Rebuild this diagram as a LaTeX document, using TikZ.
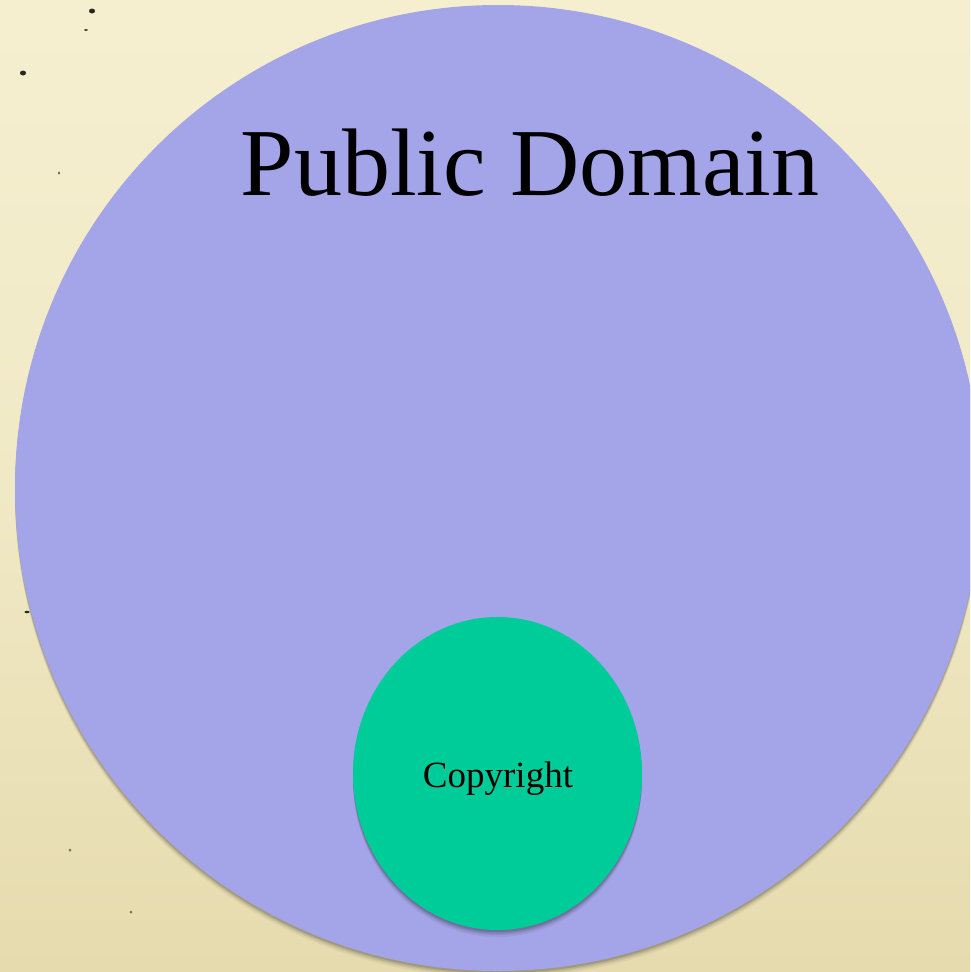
\documentclass[tikz,border=0pt]{standalone}
\usepackage{fontspec}
\setmainfont{Liberation Serif}
\definecolor{parchTop}{HTML}{F5EFD0}
\definecolor{parchBot}{HTML}{E6DBAE}
\definecolor{domainFill}{HTML}{A4A4E8}
\definecolor{copyFill}{HTML}{00CC99}
\definecolor{speck}{HTML}{2A2620}
\tikzset{
  speckdot/.style={fill=speck, draw=none},
  domaintext/.style={font=\fontsize{96}{100}\selectfont, text=black, inner sep=0pt, anchor=base},
  copytext/.style={font=\fontsize{37}{40}\selectfont, text=black, inner sep=0pt, anchor=base},
}
\begin{document}
\begin{tikzpicture}[x=1pt, y=-1pt]
  \useasboundingbox (0,0) rectangle (970,972);
  \clip (0,0) rectangle (970,972);
  % parchment background
  \shade[top color=parchTop, bottom color=parchBot, middle color=parchTop!70!parchBot] (0,0) rectangle (970,972);
  % stray specks on the paper
  \fill[speckdot] (92,11) ellipse (3 and 2.5);
  \fill[speckdot] (86,30) ellipse (2 and 0.8);
  \fill[speckdot] (23,73) ellipse (3 and 2.5);
  \fill[speckdot] (59,173) ellipse (0.8 and 1.5);
  \fill[speckdot] (27,612) ellipse (2.5 and 1.2);
  \fill[speckdot, opacity=0.6] (70,850) circle (1.5);
  \fill[speckdot, opacity=0.6] (131,912) circle (1.5);
  % soft shadow under the public domain circle
  \foreach \s/\o in {7/0.05, 5/0.07, 3.5/0.09, 2/0.12} {
    \fill[black, opacity=\o] (498,488+\s) circle (483);
  }
  \fill[domainFill] (498,488) circle (483);
  % soft shadow under the copyright ellipse
  \foreach \s/\o in {7/0.05, 5/0.07, 3.5/0.09, 2/0.12} {
    \fill[black!60!domainFill, opacity=\o*2] (497.5,773.5+\s) ellipse (144.5 and 156.5);
  }
  \fill[copyFill] (497.5,773.5) ellipse (144.5 and 156.5);
  % labels
  \node[domaintext] (pd) at (530,195) {Public Domain};
  \node[copytext] (cr) at (498,787) {Copyright};
\end{tikzpicture}
\end{document}
